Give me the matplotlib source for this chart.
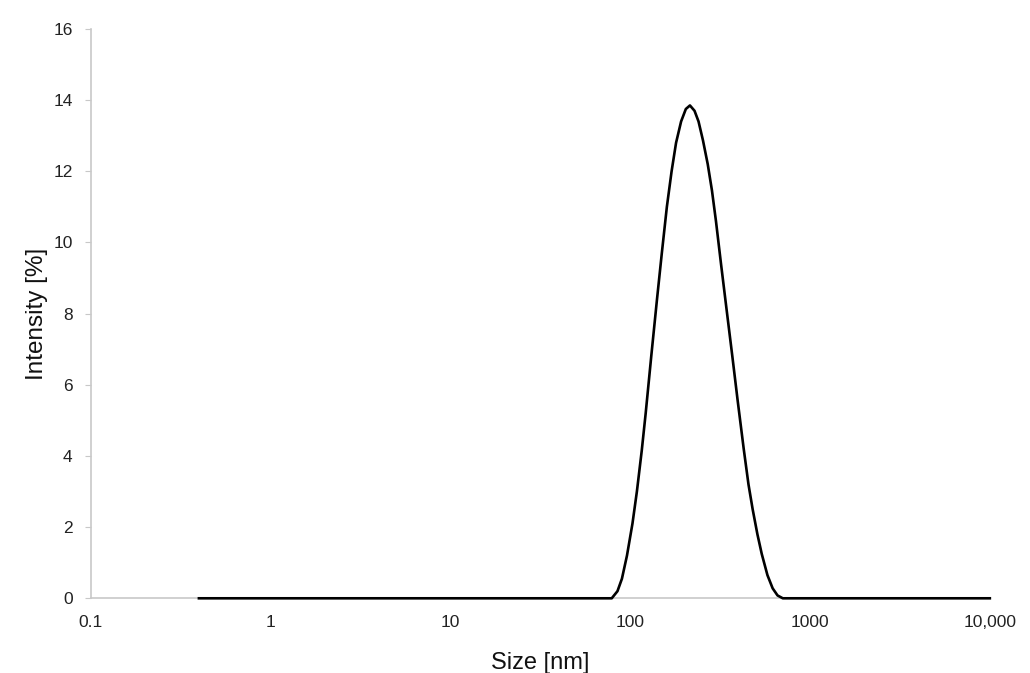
import matplotlib.pyplot as plt

# size distribution (nm, % intensity)
sizes = [0.4, 1, 10, 50, 79, 85, 90, 96, 103, 109, 116, 122, 131, 141, 150,
         160, 170, 180, 192, 204, 215, 228, 240, 254, 270, 285, 300, 320, 344,
         370, 396, 428, 455, 480, 510, 539, 580, 620, 660, 706, 1000, 10000]
intensity = [0, 0, 0, 0, 0, 0.2, 0.55, 1.2, 2.1, 3.0, 4.15, 5.2, 6.8, 8.4,
             9.7, 11.0, 12.0, 12.8, 13.4, 13.75, 13.85, 13.7, 13.4, 12.87,
             12.2, 11.46, 10.6, 9.4, 8.1, 6.8, 5.56, 4.2, 3.2, 2.5, 1.8,
             1.25, 0.65, 0.28, 0.08, 0, 0, 0]

xticks = [0.1, 1, 10, 100, 1000, 10000]
xtick_labels = ["0.1", "1", "10", "100", "1000", "10,000"]
yticks = [0, 2, 4, 6, 8, 10, 12, 14, 16]


def main():
    plt.rcParams["font.family"] = ["Liberation Sans", "DejaVu Sans"]
    fig = plt.figure(figsize=(10.3, 6.73), dpi=100)
    ax = fig.add_axes([0.088, 0.111, 0.873, 0.846])

    ax.plot(sizes, intensity, color="black", lw=1.9, clip_on=False,
            zorder=3, solid_joinstyle="round")

    ax.set_xscale("log")
    ax.set_xlim(0.1, 10000)
    ax.set_ylim(0, 16)
    ax.set_xticks(xticks)
    ax.set_xticklabels(xtick_labels)
    ax.minorticks_off()
    ax.set_yticks(yticks)

    for side in ["top", "right"]:
        ax.spines[side].set_visible(False)
    for side in ["left", "bottom"]:
        ax.spines[side].set_color("#c8c8c8")
        ax.spines[side].set_linewidth(1.2)
    ax.tick_params(axis="y", colors="#c8c8c8", labelcolor="#222222",
                   labelsize=12.5, length=4, pad=9)
    ax.tick_params(axis="x", length=0, labelcolor="#222222",
                   labelsize=12.5, pad=12)

    ax.set_xlabel("Size [nm]", fontsize=17, color="#111111", labelpad=16)
    ax.set_ylabel("Intensity [%]", fontsize=17.5, color="#111111", labelpad=4)

    fig.savefig("out.png", dpi=100, facecolor="white")


if __name__ == "__main__":
    main()
